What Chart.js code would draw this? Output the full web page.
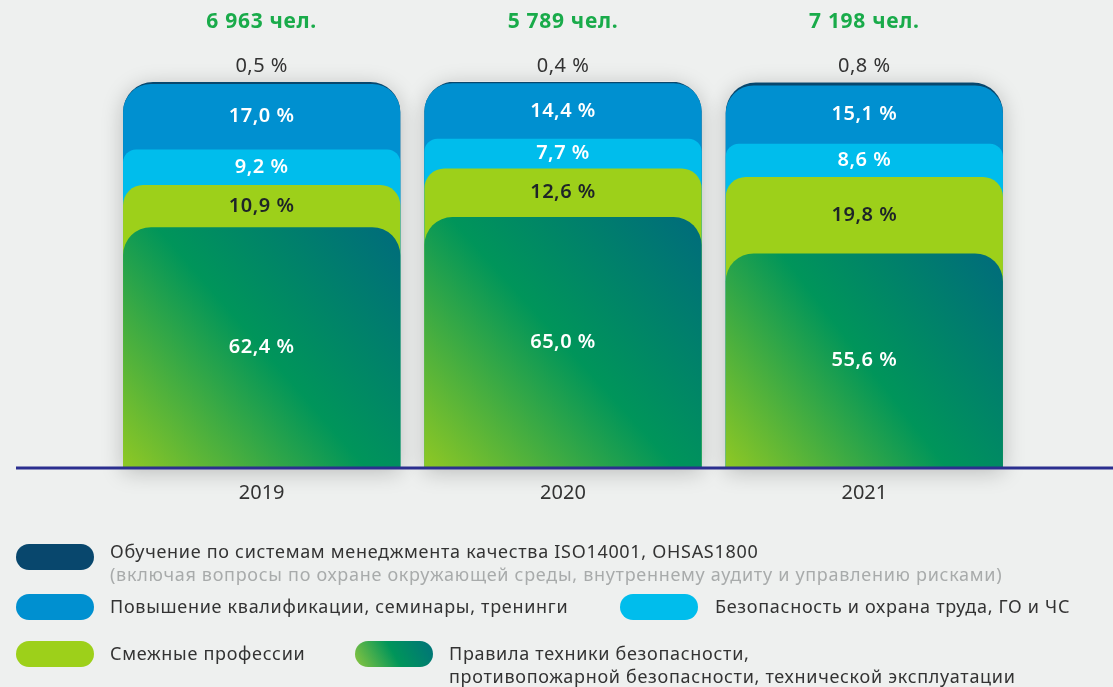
<!DOCTYPE html>
<html lang="ru">
<head>
<meta charset="utf-8">
<title>Обучение персонала 2019–2021</title>
<script src="https://cdn.jsdelivr.net/npm/chart.js@4.4.1/dist/chart.umd.min.js"></script>
<style>
  html, body { margin: 0; padding: 0; background: #eef0ef; }
  body { width: 1113px; height: 687px; position: relative; overflow: hidden; font-family: "Noto Sans", sans-serif; }
  #wrap { position: absolute; left: 0; top: 0; width: 1113px; height: 687px; }
  .leg { position: absolute; font-size: 18px; letter-spacing: 0.7px; color: #333; line-height: 23px; white-space: nowrap; }
  .leg .sub { color: #a8abab; }
  .pill { position: absolute; width: 78px; height: 26px; border-radius: 13px; }
</style>
</head>
<body>
<div id="wrap"><canvas id="chart" width="1113" height="687"></canvas></div>

<div class="pill" style="left:16px;top:544px;background:#08476d"></div>
<div class="leg" style="left:110px;top:540px">Обучение по системам менеджмента качества ISO14001, OHSAS1800<br><span class="sub">(включая вопросы по охране окружающей среды, внутреннему аудиту и управлению рисками)</span></div>

<div class="pill" style="left:16px;top:594px;background:#0090d0"></div>
<div class="leg" style="left:110px;top:595px">Повышение квалификации, семинары, тренинги</div>

<div class="pill" style="left:620px;top:594px;background:#00bdec"></div>
<div class="leg" style="left:715px;top:595px">Безопасность и охрана труда, ГО и ЧС</div>

<div class="pill" style="left:16px;top:641px;background:#9dd01a"></div>
<div class="leg" style="left:110px;top:642px">Смежные профессии</div>

<div class="pill" style="left:355px;top:641px;background:linear-gradient(60deg,#8cc63f 0%,#00955a 50%,#00727a 100%)"></div>
<div class="leg" style="left:449px;top:642px">Правила техники безопасности,<br>противопожарной безопасности, технической эксплуатации</div>

<script>
const years = ['2019', '2020', '2021'];
const totals = ['6 963 чел.', '5 789 чел.', '7 198 чел.'];

// shares of trained staff, %
const safetyRules = [62.4, 65.0, 55.6];
const relatedJobs = [10.9, 12.6, 19.8];
const laborSafety = [9.2, 7.7, 8.6];
const qualification = [17.0, 14.4, 15.1];
const managementSystems = [0.5, 0.4, 0.8];

const fmt = v => v.toFixed(1).replace('.', ',') + ' %';

// bottom-up order; each bar is drawn from the axis to its cumulative top,
// so the lower (front) bar's rounded corners reveal the one behind it
const layers = [
  { name: 'safety', values: safetyRules, color: null, text: '#ffffff', radius: 28 },
  { name: 'related', values: relatedJobs, color: '#9dd01a', text: '#1e2428', radius: 20 },
  { name: 'labor', values: laborSafety, color: '#00bdec', text: '#ffffff', radius: 13 },
  { name: 'qualification', values: qualification, color: '#0090d0', text: '#ffffff', radius: 28 },
  { name: 'management', values: managementSystems, color: '#08476d', text: '#333333', radius: 30 }
];

const cumulative = [];
layers.forEach((l, k) => {
  cumulative.push(l.values.map((v, i) => (k ? cumulative[k - 1][i] : 0) + v));
});

function greenGradient(ctx) {
  const chart = ctx.chart;
  const { x, y } = chart.scales;
  if (!chart.chartArea || !x || !y) return '#00955a';
  const cx = x.getPixelForValue(ctx.dataIndex);
  const half = x.width / years.length * 0.92 / 2;
  const top = y.getPixelForValue(cumulative[0][ctx.dataIndex]);
  const bottom = y.getPixelForValue(0);
  const g = chart.ctx.createLinearGradient(cx - half, bottom, cx + half, top);
  g.addColorStop(0, '#8fc824');
  g.addColorStop(0.5, '#00955a');
  g.addColorStop(1, '#006b7c');
  return g;
}

const datasets = layers.map((l, k) => ({
  label: l.name,
  data: cumulative[k],
  backgroundColor: l.color || greenGradient,
  borderWidth: 0,
  borderSkipped: 'start',
  borderRadius: { topLeft: l.radius, topRight: l.radius, bottomLeft: 0, bottomRight: 0 },
  grouped: false,
  categoryPercentage: 1,
  barPercentage: 0.92
}));

// soft shadow behind each column
const columnShadow = {
  id: 'columnShadow',
  beforeDatasetsDraw(chart) {
    const meta = chart.getDatasetMeta(layers.length - 1);
    const c = chart.ctx;
    c.save();
    c.shadowColor = 'rgba(0,0,0,0.22)';
    c.shadowBlur = 22;
    c.shadowOffsetY = 4;
    c.fillStyle = '#eef0ef';
    meta.data.forEach(bar => {
      const r = 30;
      const l = bar.x - bar.width / 2, rt = bar.x + bar.width / 2;
      c.beginPath();
      c.moveTo(l, bar.base);
      c.lineTo(l, bar.y + r);
      c.arcTo(l, bar.y, l + r, bar.y, r);
      c.lineTo(rt - r, bar.y);
      c.arcTo(rt, bar.y, rt, bar.y + r, r);
      c.lineTo(rt, bar.base);
      c.closePath();
      c.fill();
    });
    c.restore();
  }
};

// baseline, value labels and headcounts
const annotations = {
  id: 'annotations',
  afterDatasetsDraw(chart) {
    const c = chart.ctx;
    const y = chart.scales.y;
    const base = y.getPixelForValue(0);
    c.save();
    c.strokeStyle = '#2b2f8f';
    c.lineWidth = 3;
    c.beginPath();
    c.moveTo(16, base);
    c.lineTo(1113, base);
    c.stroke();

    c.textAlign = 'center';
    c.textBaseline = 'middle';
    layers.forEach((l, k) => {
      const meta = chart.getDatasetMeta(k);
      meta.data.forEach((bar, i) => {
        if (k === layers.length - 1) {
          c.letterSpacing = '0.5px';
          c.font = '20px "Noto Sans"';
          c.fillStyle = l.text;
          c.fillText(fmt(l.values[i]), bar.x, chart.chartArea.top - 16);
          c.letterSpacing = '0.7px';
          c.font = 'bold 21px "Noto Sans"';
          c.fillStyle = '#19ab4a';
          c.fillText(totals[i], bar.x, chart.chartArea.top - 60);
          return;
        }
        const lower = k ? y.getPixelForValue(cumulative[k - 1][i]) : base;
        c.letterSpacing = '0.5px';
        c.font = '600 20px "Noto Sans"';
        c.fillStyle = l.text;
        c.fillText(fmt(l.values[i]), bar.x, (bar.y + lower) / 2);
      });
    });
    c.restore();
  }
};

new Chart(document.getElementById('chart'), {
  type: 'bar',
  data: { labels: years, datasets },
  options: {
    responsive: false,
    animation: false,
    layout: { padding: { top: 82, bottom: 169, left: 111, right: 98 } },
    plugins: { legend: { display: false }, tooltip: { enabled: false } },
    scales: {
      x: {
        grid: { display: false, drawTicks: false },
        border: { display: false },
        ticks: { color: '#333', font: { size: 20, family: 'Noto Sans' }, padding: 13 }
      },
      y: { display: false, min: 0, max: 100 }
    }
  },
  plugins: [columnShadow, annotations]
});
</script>
</body>
</html>
